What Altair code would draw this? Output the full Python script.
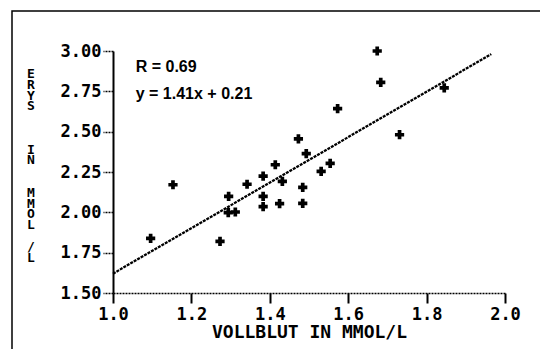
import altair as alt
import pandas as pd

# Scatter data
vollblut = [1.096, 1.153, 1.273, 1.295, 1.294, 1.312, 1.342, 1.383, 1.383, 1.383,
            1.414, 1.425, 1.432, 1.473, 1.484, 1.484, 1.493, 1.531, 1.554, 1.573,
            1.674, 1.683, 1.731, 1.845]
erys = [1.839, 2.171, 1.820, 2.099, 1.998, 2.002, 2.174, 2.225, 2.099, 2.035,
        2.295, 2.054, 2.192, 2.455, 2.155, 2.056, 2.364, 2.254, 2.304, 2.643,
        3.000, 2.806, 2.481, 2.771]

# Regression
slope = 1.41
intercept = 0.21
r_value = 0.69
line_x = [1.0, 1.965]

x_ticks = [1.0, 1.2, 1.4, 1.6, 1.8, 2.0]
y_ticks = [1.50, 1.75, 2.00, 2.25, 2.50, 2.75, 3.00]

x_title = "VOLLBLUT IN MMOL/L"
# vertical y title: word groups (stacked letters) and the text line where each starts
y_title_groups = [["E", "R", "Y", "S"], ["I", "N"], ["M", "M", "O", "L"], ["/", "L"]]
y_title_start_lines = [0, 7, 11, 16]

annotations = [f"R = {r_value:.2f}", f"y = {slope:.2f}x + {intercept:.2f}"]
ann_x = [1.058, 1.058]
ann_y = [2.90, 2.735]

pts = pd.DataFrame({"x": vollblut, "y": erys})
reg = pd.DataFrame({"x": line_x, "y": [slope * v + intercept for v in line_x]})
ann = pd.DataFrame({"x": ann_x, "y": ann_y, "t": annotations})

MONO = "DejaVu Sans Mono"
LINE_H = 10.8

xscale = alt.Scale(domain=[1.0, 2.0], nice=False, zero=False)
yscale = alt.Scale(domain=[1.5, 3.0], nice=False, zero=False)

xaxis = alt.Axis(values=x_ticks, format=".1f", grid=False, labelFlush=False, labelOverlap=False,
                 domainColor="black", domainWidth=1.5, domainDash=[2, 1],
                 tickColor="black", tickSize=10, tickWidth=2,
                 labelFont=MONO, labelFontSize=17, labelFontWeight="bold", labelColor="black",
                 labelPadding=3,
                 title=x_title, titleFont=MONO, titleFontSize=18, titleFontWeight="bold",
                 titleColor="black", titlePadding=1)

yaxis = alt.Axis(values=y_ticks, format=".2f", grid=False, labelFlush=False, labelOverlap=False,
                 domainColor="black", domainWidth=2,
                 tickColor="black", tickSize=10, tickWidth=1.5, tickDash=[2, 1],
                 labelFont=MONO, labelFontSize=17, labelFontWeight="bold", labelColor="black",
                 labelPadding=2,
                 title=None)

points = alt.Chart(pts).mark_point(shape="cross", size=85, filled=True, color="black", opacity=1).encode(
    x=alt.X("x:Q", scale=xscale, axis=xaxis),
    y=alt.Y("y:Q", scale=yscale, axis=yaxis),
)

line = alt.Chart(reg).mark_line(color="black", strokeWidth=2.3, strokeDash=[3, 1]).encode(
    x=alt.X("x:Q", scale=xscale),
    y=alt.Y("y:Q", scale=yscale),
)

texts = alt.Chart(ann).mark_text(align="left", baseline="middle", font="Liberation Sans",
                                 fontWeight="bold", fontSize=16, color="black").encode(
    x=alt.X("x:Q", scale=xscale),
    y=alt.Y("y:Q", scale=yscale),
    text="t:N",
)

one = pd.DataFrame({"a": [0]})
ytitle_layers = []
for grp, start in zip(y_title_groups, y_title_start_lines):
    ytitle_layers.append(
        alt.Chart(one).mark_text(
            text=grp, align="center", baseline="top", font=MONO, fontSize=13,
            fontWeight="bold", lineHeight=LINE_H, color="black",
        ).encode(x=alt.value(-82), y=alt.value(17 + start * LINE_H))
    )

frame = alt.Chart(one).mark_rect(fill=None, stroke="black", strokeWidth=1.5).encode(
    x=alt.value(-101), x2=alt.value(450), y=alt.value(-40), y2=alt.value(320),
)

chart = alt.layer(frame, line, points, texts, *ytitle_layers).properties(
    width=392, height=242,
    autosize=alt.AutoSizeParams(type="none"),
    padding={"left": 113, "top": 51, "right": 35, "bottom": 56},
    background="white",
).configure_view(stroke=None)

chart.save("out.html", embed_options={"renderer": "svg", "actions": False})
